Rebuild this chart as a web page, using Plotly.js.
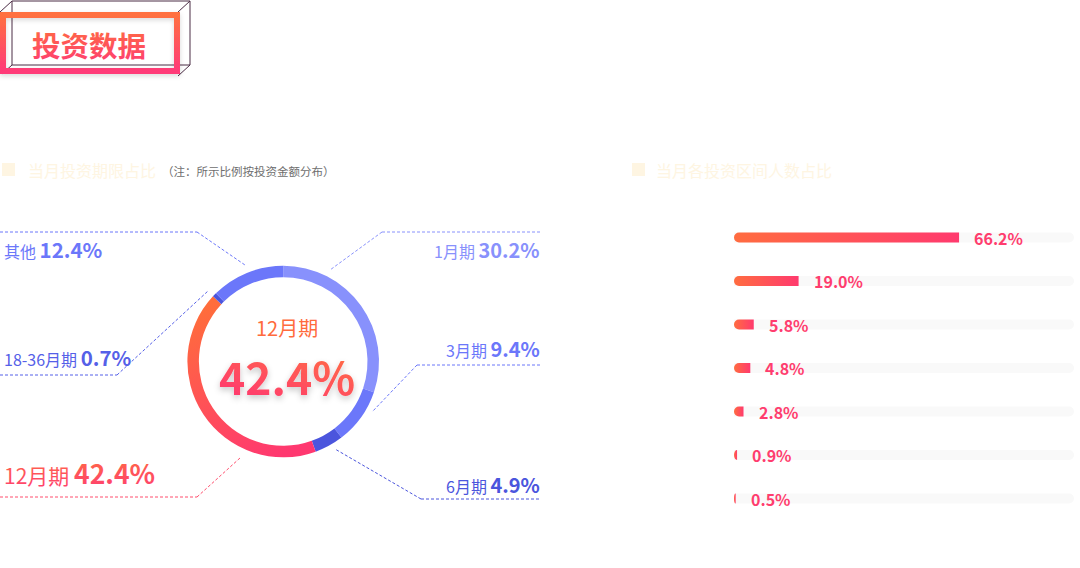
<!DOCTYPE html>
<html><head><meta charset="utf-8">
<script src="https://cdn.plot.ly/plotly-3.0.1.min.js"></script>
<style>html,body{margin:0;padding:0;background:#fff;}#chart{width:1080px;height:568px;}</style>
</head><body>
<svg width="0" height="0" style="position:absolute">
<defs>
<linearGradient id="gPie" x1="0.3" y1="0" x2="0.7" y2="1"><stop offset="0" stop-color="#FF6D3B"/><stop offset="1" stop-color="#FF3870"/></linearGradient>
<linearGradient id="gBar" x1="0" y1="0" x2="1" y2="0"><stop offset="0" stop-color="#FF6C40"/><stop offset="1" stop-color="#FF3A6E"/></linearGradient>
<linearGradient id="gBig" x1="0.9" y1="0" x2="0.3" y2="1"><stop offset="0" stop-color="#FF7340"/><stop offset="1" stop-color="#FF3870"/></linearGradient>
<linearGradient id="gV" x1="0" y1="0" x2="0" y2="1"><stop offset="0" stop-color="#FF6E3E"/><stop offset="1" stop-color="#FF3C74"/></linearGradient>
<linearGradient id="gFrame" x1="0" y1="0" x2="0" y2="1"><stop offset="0" stop-color="#FF7040"/><stop offset="1" stop-color="#FF3A78"/></linearGradient>
<filter id="fText" x="-20%" y="-30%" width="140%" height="170%"><feDropShadow dx="0" dy="3" stdDeviation="3" flood-color="#000" flood-opacity="0.22"/></filter>
<filter id="fSoft" x="-10%" y="-40%" width="120%" height="200%"><feDropShadow dx="0" dy="2" stdDeviation="2.5" flood-color="#000" flood-opacity="0.15"/></filter>
</defs></svg>
<div id="chart"></div>
<script>
// ---- data ----
const termLabels = ['1月期', '3月期', '6月期', '12月期', '18-36月期', '其他'];
const termShares = [30.2, 9.4, 4.9, 42.4, 0.7, 12.4];
const termColors = ['#8891FC', '#6B77FA', '#4B55DD', '#FF5A55', '#4B55DD', '#6B77FA'];
const rangeCats = ['区间1', '区间2', '区间3', '区间4', '区间5', '区间6', '区间7'];
const rangeShares = [66.2, 19.0, 5.8, 4.8, 2.8, 0.9, 0.5];
const rangeFull = 100;

const titleText = '投资数据';
const leftHeader = '当月投资期限占比';
const leftNote = '（注：所示比例按投资金额分布）';
const rightHeader = '当月各投资区间人数占比';

// ---- helpers ----
const W = 1080, H = 568;
const FONT = '"Noto Sans CJK SC", "Microsoft YaHei", sans-serif';
const px = x => x / W;
const py = y => 1 - y / H;

const shapes = [];
const annotations = [];
const gradShapes = [];
const gradAnns = [];

function line(x0, y0, x1, y1, color, width, dash) {
  shapes.push({type: 'line', xref: 'paper', yref: 'paper', x0: px(x0), y0: py(y0), x1: px(x1), y1: py(y1),
    line: {color: color, width: width, dash: dash || 'solid'}});
  return shapes.length - 1;
}
function rect(x0, y0, x1, y1, lineColor, lineWidth, fill) {
  shapes.push({type: 'rect', xref: 'paper', yref: 'paper', x0: px(x0), y0: py(y0), x1: px(x1), y1: py(y1),
    line: {color: lineColor, width: lineWidth}, fillcolor: fill || 'rgba(0,0,0,0)'});
  return shapes.length - 1;
}
function text(x, y, t, size, color, xanchor, weight) {
  annotations.push({xref: 'paper', yref: 'paper', x: px(x), y: py(y), text: t, showarrow: false,
    xanchor: xanchor || 'left', yanchor: 'middle', borderpad: 0,
    font: {family: FONT, size: size, color: color, weight: weight || 'normal'}});
  return annotations.length - 1;
}

// ---- title decoration ----
const dark = '#4B2C45';
line(12, 1, 190, 1, dark, 1);
line(12, 1, 12, 65, dark, 1);
line(12, 65, 190, 65, dark, 1);
line(190, 1, 190, 65, dark, 1);
line(12, 1, 0, 12, dark, 1);
line(190, 1, 178, 12, dark, 1);
line(190, 65, 178, 76, dark, 1);
line(12, 65, 2, 74, dark, 1);
const frameIdx = rect(3, 15, 177, 71, '#FF5A58', 6);
gradShapes.push([frameIdx, 'gFrame', 'fSoft']);
const titleIdx = text(89, 45, '<b>' + titleText + '</b>', 28.5, '#FF5A58', 'center');
gradAnns.push([titleIdx, 'gV', null]);

// ---- section headers ----
const cream = '#FEF5E2';
rect(2, 163, 15, 176, cream, 0, cream);
text(27, 170, leftHeader, 16, cream);
text(161, 171, leftNote, 11.5, '#6E6E6E');
rect(632, 163, 645, 176, cream, 0, cream);
text(655, 170, rightHeader, 16, cream);

// ---- donut labels & leader lines ----
const dash = '3px,2px';
const labelPos = [ // [x, y, anchor, lineY, lineX0, lineX1, diagX, diagY, color, valueSize, labelSize]
  [541, 250, 'right', 232, 382, 541, 330, 270, '#8891FC', 20, 16],
  [541, 348, 'right', 365, 417, 541, 372, 412, '#6B77FA', 20, 16],
  [541, 484, 'right', 499, 421, 541, 335, 449, '#4B55DD', 20, 16],
  [3, 473, 'left', 497, 0, 197, 240, 458, '#FF4D6C', 26.5, 21],
  [3, 357, 'left', 375, 0, 117, 208, 291, '#5560E8', 20.5, 16],
  [3, 249, 'left', 232, 0, 197, 245, 265, '#6B77FA', 20.5, 16]
];
termLabels.forEach((lab, i) => {
  const p = labelPos[i];
  const t = lab + ' <b><span style="font-size:' + p[9] + 'px">' + termShares[i].toFixed(1) + '%</span></b>';
  const idx = text(p[0], p[1], t, p[10], p[8], p[2]);
  if (i === 3) gradAnns.push([idx, 'gV', null]);
  line(p[4], p[3], p[5], p[3], p[8], 1, dash);
  const corner = p[2] === 'left' ? p[5] : p[4];
  line(corner, p[3], p[6], p[7], p[8], 1, dash);
});

// ---- donut centre ----
const maxI = termShares.indexOf(Math.max(...termShares));
text(287, 327, termLabels[maxI], 20, '#FF6B3D', 'center');
const bigIdx = text(287, 375, '<b>' + termShares[maxI].toFixed(1) + '%</b>', 44.5, '#FF5058', 'center');
gradAnns.push([bigIdx, 'gBig', 'fText']);

// ---- bar value labels ----
rangeShares.forEach((v, i) => {
  annotations.push({xref: 'x', yref: 'y', x: v, y: rangeCats[i], text: v.toFixed(1) + '%', showarrow: false,
    xanchor: 'left', yanchor: 'middle', xshift: 14, borderpad: 0,
    font: {family: FONT, size: 16, color: '#FF3D6E', weight: 'bold'}});
});

// ---- traces ----
const cx = 283.2, cy = 361.5, R = 95.8;
const pie = {
  type: 'pie', labels: termLabels, values: termShares, sort: false, direction: 'clockwise', rotation: 0,
  hole: 0.88, textinfo: 'none', hoverinfo: 'skip', showlegend: false,
  marker: {colors: termColors, line: {width: 0}},
  domain: {x: [px(cx - R), px(cx + R)], y: [py(cy + R), py(cy - R)]}
};
const track = {
  type: 'bar', orientation: 'h', y: rangeCats, x: rangeCats.map(() => rangeFull), width: 0.23,
  marker: {color: '#F9F9F9', cornerradius: 5}, hoverinfo: 'skip', showlegend: false
};
const bars = {
  type: 'bar', orientation: 'h', y: rangeCats, x: rangeShares, width: 0.23,
  marker: {color: '#FF5058'}, hoverinfo: 'skip', showlegend: false
};

const layout = {
  width: W, height: H, margin: {l: 0, r: 0, t: 0, b: 0}, paper_bgcolor: '#fff', plot_bgcolor: 'rgba(0,0,0,0)',
  barmode: 'overlay', showlegend: false,
  xaxis: {domain: [px(734), px(1074)], range: [0, rangeFull], visible: false, fixedrange: true},
  yaxis: {domain: [py(520.25), py(215.75)], type: 'category', range: [6.5, -0.5], visible: false, fixedrange: true},
  shapes: shapes, annotations: annotations
};

Plotly.newPlot('chart', [pie, track, bars], layout, {staticPlot: true, displayModeBar: false}).then(gd => {
  const slices = gd.querySelectorAll('.pielayer .slice path.surface');
  if (slices[maxI]) slices[maxI].style.fill = 'url(#gPie)';
  const bt = gd.querySelectorAll('.barlayer .trace');
  if (bt[1]) bt[1].querySelectorAll('path').forEach(p => {
    // restyle the library's bar: round its start (left) end, keep its value end square
    const b = p.getBBox();
    if (b.width > 0) {
      const rx = Math.min(b.height / 2, b.width), ry = b.height / 2;
      const x0 = b.x, x1 = b.x + b.width, y0 = b.y, y1 = b.y + b.height;
      p.setAttribute('d', 'M' + x1 + ',' + y0 + 'V' + y1 + 'H' + (x0 + rx) +
        'A' + rx + ',' + ry + ' 0 0 1 ' + (x0 + rx) + ',' + y0 + 'Z');
    }
    p.style.fill = 'url(#gBar)';
  });
  gradShapes.forEach(([i, g, f]) => {
    const el = gd.querySelector('.shapelayer path[data-index="' + i + '"]');
    if (el) { el.style.stroke = 'url(#' + g + ')'; if (f) el.setAttribute('filter', 'url(#' + f + ')'); }
  });
  gradAnns.forEach(([i, g, f]) => {
    const el = gd.querySelector('.annotation[data-index="' + i + '"] text');
    if (el) { el.style.fill = 'url(#' + g + ')'; if (f) el.setAttribute('filter', 'url(#' + f + ')'); }
  });
});
</script>
</body></html>
